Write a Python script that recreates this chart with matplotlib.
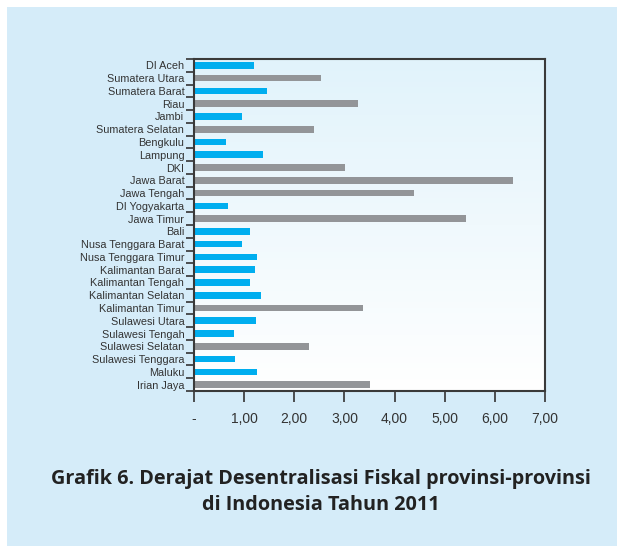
import numpy as np
import matplotlib
matplotlib.use('Agg')
import matplotlib.pyplot as plt
from matplotlib.patches import Rectangle
from matplotlib.ticker import FixedLocator, FuncFormatter

# DATA
provinces = ['DI Aceh', 'Sumatera Utara', 'Sumatera Barat', 'Riau', 'Jambi',
             'Sumatera Selatan', 'Bengkulu', 'Lampung', 'DKI', 'Jawa Barat',
             'Jawa Tengah', 'DI Yogyakarta', 'Jawa Timur', 'Bali',
             'Nusa Tenggara Barat', 'Nusa Tenggara Timur', 'Kalimantan Barat',
             'Kalimantan Tengah', 'Kalimantan Selatan', 'Kalimantan Timur',
             'Sulawesi Utara', 'Sulawesi Tengah', 'Sulawesi Selatan',
             'Sulawesi Tenggara', 'Maluku', 'Irian Jaya']
values = [1.20, 2.53, 1.46, 3.27, 0.96, 2.39, 0.64, 1.38, 3.01, 6.36,
          4.39, 0.68, 5.42, 1.12, 0.96, 1.26, 1.22, 1.12, 1.34, 3.37,
          1.24, 0.80, 2.29, 0.82, 1.26, 3.51]
# 1 = grey bar, 0 = blue bar
grey_flag = [0, 1, 0, 1, 0, 1, 0, 0, 1, 1,
             1, 0, 1, 0, 0, 0, 0, 0, 0, 1,
             0, 0, 1, 0, 0, 1]
x_ticks = [0, 1, 2, 3, 4, 5, 6, 7]

BLUE = '#00aeef'
GREY = '#939598'
PANEL = '#d5ecf9'

plt.rcParams['font.family'] = ['Liberation Sans', 'DejaVu Sans']

fig = plt.figure(figsize=(6.23, 5.46), dpi=100)
fig.patch.set_facecolor('white')

# light blue panel behind everything
fig.patches.append(Rectangle((7 / 623, 0), 610 / 623, 1 - 7 / 546,
                             transform=fig.transFigure, facecolor=PANEL,
                             edgecolor='none', zorder=-10))

ax = fig.add_axes([194 / 623, 1 - 391 / 546, 351 / 623, 332 / 546])
ax.set_facecolor('none')

# gradient fill inside plot area
grad = np.linspace(0, 1, 256).reshape(-1, 1)
ax.imshow(grad, extent=[0, 1, 0, 1], transform=ax.transAxes, aspect='auto',
          cmap=matplotlib.colors.LinearSegmentedColormap.from_list(
              'bg', ['#e1f3fb', '#ffffff']), origin='upper', zorder=0)

n = len(provinces)
y = np.arange(n)
colors = [GREY if g else BLUE for g in grey_flag]
ax.barh(y, values, height=0.52, color=colors, zorder=2)

ax.set_xlim(0, 7)
ax.set_ylim(n - 0.5, -0.5)

ax.set_yticks(y)
ax.set_yticklabels(provinces, fontsize=7.8, color='#333333')
ax.yaxis.set_minor_locator(FixedLocator(np.arange(-0.5, n, 1.0)))
ax.tick_params(axis='y', which='major', length=0, pad=7)
ax.tick_params(axis='y', which='minor', length=6, width=1.2, color='#333333')

ax.set_xticks(x_ticks)
ax.xaxis.set_major_formatter(FuncFormatter(
    lambda v, p: '-' if v == 0 else ('%.2f' % v).replace('.', ',')))
ax.tick_params(axis='x', which='major', length=8, width=1.2, color='#333333',
               labelsize=10, labelcolor='#333333', pad=7)

for s in ax.spines.values():
    s.set_color('#3a3a3a')
    s.set_linewidth(1.5)

fig.text(0.515, 1 - 479 / 546, 'Grafik 6. Derajat Desentralisasi Fiskal provinsi-provinsi',
         ha='center', va='center', fontsize=14.3, fontweight='bold',
         family=['Open Sans', 'DejaVu Sans'], color='#222222')
fig.text(0.515, 1 - 505 / 546, 'di Indonesia Tahun 2011',
         ha='center', va='center', fontsize=14.3, fontweight='bold',
         family=['Open Sans', 'DejaVu Sans'], color='#222222')

fig.savefig('out.png', dpi=100)
